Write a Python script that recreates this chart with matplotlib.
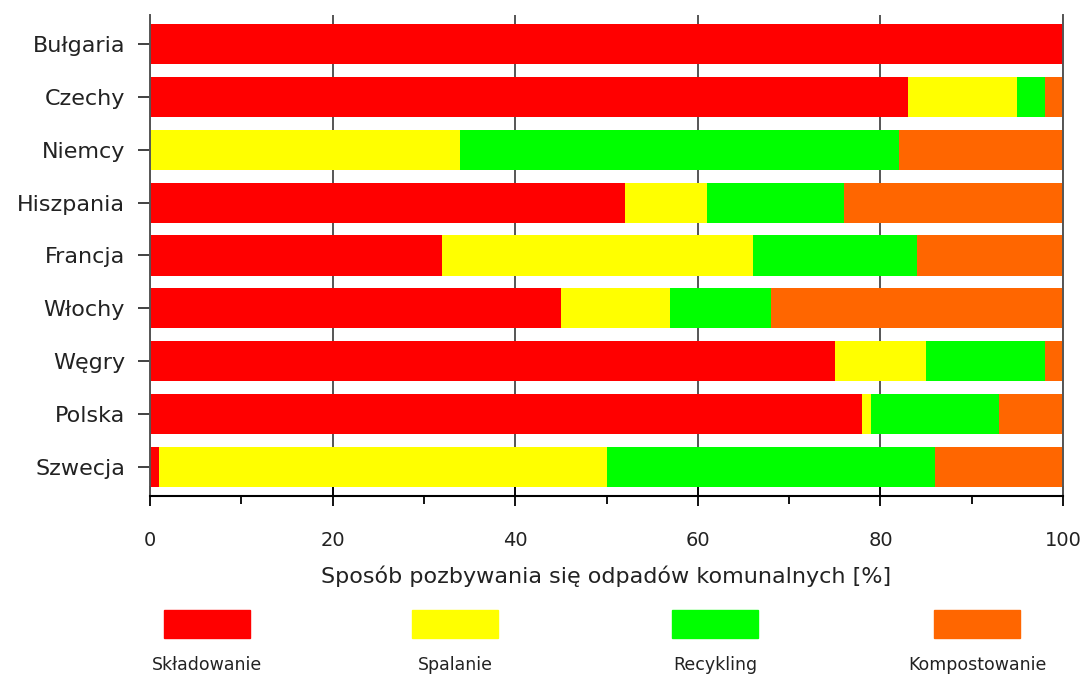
import matplotlib.pyplot as plt
from matplotlib.patches import Rectangle
from matplotlib.ticker import MultipleLocator

# Dane: udział sposobów pozbywania się odpadów [%]
countries = ['Bułgaria', 'Czechy', 'Niemcy', 'Hiszpania', 'Francja',
             'Włochy', 'Węgry', 'Polska', 'Szwecja']
methods = ['Składowanie', 'Spalanie', 'Recykling', 'Kompostowanie']
skladowanie = [100, 83, 0, 52, 32, 45, 75, 78, 1]
spalanie = [0, 12, 34, 9, 34, 12, 10, 1, 49]
recykling = [0, 3, 48, 15, 18, 11, 13, 14, 36]
kompostowanie = [0, 2, 18, 24, 16, 32, 2, 7, 14]
colors = ['#ff0000', '#ffff00', '#00ff00', '#ff6600']

plt.rcParams['font.family'] = ['DejaVu Sans']

fig = plt.figure(figsize=(10.81, 6.75), dpi=100)
ax = fig.add_axes([0.1388, 0.2652, 0.8446, 0.7126])

series = [skladowanie, spalanie, recykling, kompostowanie]
y = range(len(countries))
left = [0] * len(countries)
for vals, col, name in zip(series, colors, methods):
    ax.barh(y, vals, left=left, height=0.76, color=col, label=name,
            zorder=2)
    left = [a + b for a, b in zip(left, vals)]

ax.set_xlim(0, 100)
ax.set_ylim(8.55, -0.55)
ax.set_yticks(list(y))
ax.set_yticklabels(countries, fontsize=16, color='#222222')

# Oś X: główne podziałki co 20, pomocnicze co 10
ax.xaxis.set_major_locator(MultipleLocator(20))
ax.xaxis.set_minor_locator(MultipleLocator(10))
ax.tick_params(axis='x', which='major', direction='inout', length=15,
               width=1.3, pad=18, labelsize=14, labelcolor='#222222')
ax.tick_params(axis='x', which='minor', direction='out', length=6,
               width=1.3)
ax.tick_params(axis='y', direction='out', length=9, width=1.3, pad=9,
               color='#333333')
ax.grid(axis='x', which='major', color='#555555', linewidth=1.4, zorder=0)
ax.set_axisbelow(True)

ax.spines['top'].set_visible(False)
for side in ['left', 'right']:
    ax.spines[side].set_color('#555555')
    ax.spines[side].set_linewidth(1.4)
ax.spines['bottom'].set_linewidth(1.5)

ax.set_xlabel('Sposób pozbywania się odpadów komunalnych [%]',
              fontsize=16, color='#222222', labelpad=11)

# Legenda pod wykresem: prostokąty z podpisami pod spodem
legend_x = [0.1915, 0.4209, 0.6614, 0.9038]
for lx, col, name in zip(legend_x, colors, methods):
    fig.patches.append(Rectangle((lx - 0.04, 0.055), 0.08, 0.042,
                                 transform=fig.transFigure, color=col))
    fig.text(lx, 0.015, name, ha='center', va='center', fontsize=12.5,
             color='#222222')

fig.savefig('out.png', dpi=100)
